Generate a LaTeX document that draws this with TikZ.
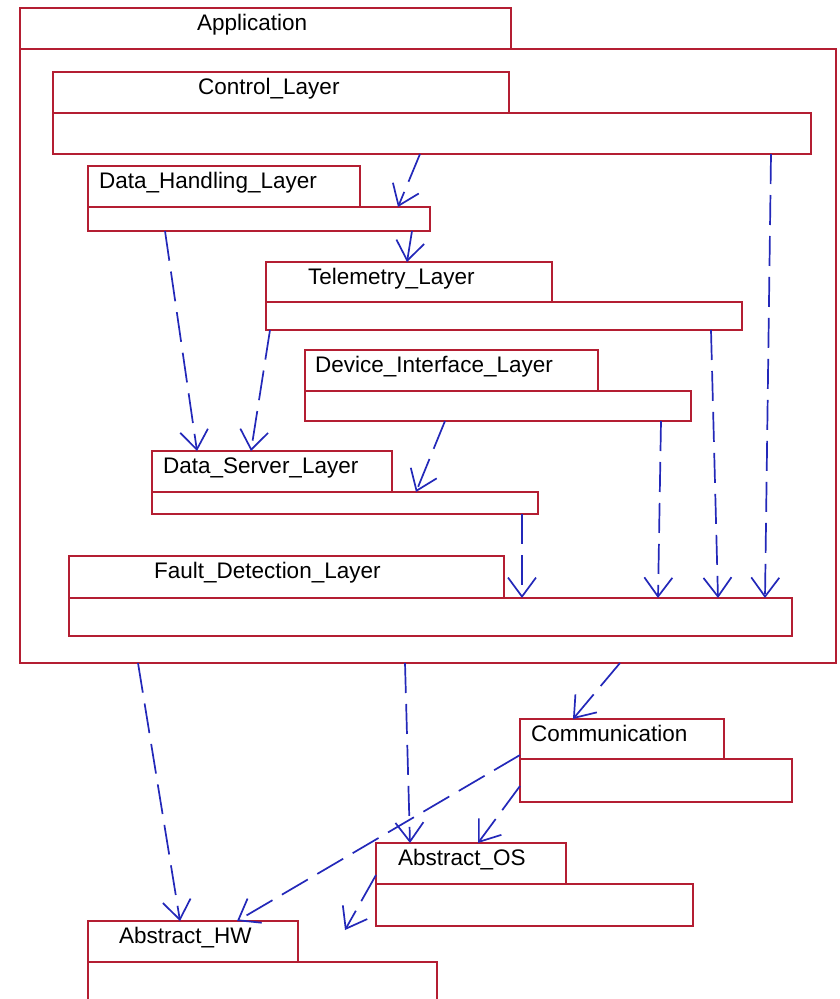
\documentclass[tikz,border=0pt]{standalone}
\usepackage{fontspec}
\setmainfont{Liberation Sans}
\usetikzlibrary{arrows.meta}

\definecolor{boxred}{RGB}{180,30,50}
\definecolor{depblue}{RGB}{35,40,185}

% package: tab on top, body below, name written in the tab
% #1 id, #2 x, #3 y, #4 tab width, #5 tab height, #6 body width, #7 body height, #8 name offset, #9 name
\newcommand{\umlpackage}[9]{%
  \node[pkgbox, minimum width=#4pt, minimum height=#5pt] (#1-tab) at (#2,#3) {};
  \node[pkgbox, minimum width=#6pt, minimum height=#7pt] (#1) at (#1-tab.south west) {};
  \node[pkglabel] (#1-name) at ([xshift=#8pt,yshift=-22pt]#1-tab.north west) {#9};
}

\tikzset{
  pkgbox/.style={draw=boxred, line width=1.8pt, inner sep=0pt, outer sep=0pt, anchor=north west},
  pkglabel/.style={anchor=base west, inner sep=0pt, font=\fontsize{22.5}{27}\selectfont},
  dep/.style={draw=depblue, line width=1.7pt, dash pattern=on 30pt off 11pt,
    -{Straight Barb[length=19pt, width=28pt]}}
}

\begin{document}
\begin{tikzpicture}[x=1pt, y=-1pt]
\useasboundingbox (0,0) rectangle (839,999);
\clip (0,0) rectangle (839,999);
\fill[white] (0,0) rectangle (839,999);

\umlpackage{app}{20}{8}{491}{41}{816}{614}{177}{Application}
\umlpackage{ctl}{53}{72}{456}{41}{758}{41}{145}{Control\_Layer}
\umlpackage{dh}{88}{166}{272}{41}{342}{24}{11}{Data\_Handling\_Layer}
\umlpackage{tel}{266}{262}{286}{40}{476}{28}{42}{Telemetry\_Layer}
\umlpackage{dev}{305}{350}{293}{41}{386}{30}{10}{Device\_Interface\_Layer}
\umlpackage{ds}{152}{451}{240}{41}{386}{22}{11}{Data\_Server\_Layer}
\umlpackage{fd}{69}{556}{435}{42}{723}{38}{85}{Fault\_Detection\_Layer}
\umlpackage{com}{520}{719}{204}{40}{272}{43}{11}{Communication}
\umlpackage{aos}{376}{843}{190}{41}{317}{42}{22}{Abstract\_OS}
\umlpackage{ahw}{88}{921}{210}{41}{349}{60}{31}{Abstract\_HW}

\coordinate (aos-free) at (345,930);

% dependencies inside Application
\draw[dep] ([xshift=367pt]ctl.south west) -- ([xshift=310pt]dh.north west);
\draw[dep] ([xshift=324pt]dh.south west) -- ([xshift=141pt]tel-tab.north west);
\draw[dep] ([xshift=718pt]ctl.south west) -- ([xshift=696pt]fd.north west);
\draw[dep] ([xshift=77pt]dh.south west) -- ([xshift=45pt]ds-tab.north west);
\draw[dep] ([xshift=4pt]tel.south west) -- ([xshift=99pt]ds-tab.north west);
\draw[dep] ([xshift=445pt]tel.south west) -- ([xshift=649pt]fd.north west);
\draw[dep] ([xshift=140pt]dev.south west) -- ([xshift=264pt]ds.north west);
\draw[dep] ([xshift=356pt]dev.south west) -- ([xshift=589pt]fd.north west);
\draw[dep] ([xshift=370pt]ds.south west) -- ([xshift=453pt]fd.north west);

% dependencies of Application and the lower packages
\draw[dep] ([xshift=118pt]app.south west) -- ([xshift=92pt]ahw-tab.north west);
\draw[dep] ([xshift=385pt]app.south west) -- ([xshift=34pt]aos-tab.north west);
\draw[dep] ([xshift=600pt]app.south west) -- ([xshift=53pt]com-tab.north west);
\draw[dep] ([yshift=4pt]com-tab.south west) -- ([xshift=149pt]ahw-tab.north west);
\draw[dep] ([yshift=-27pt]com.north west) -- ([xshift=102pt]aos-tab.north west);
\draw[dep] ([yshift=9pt]aos-tab.south west) -- (aos-free);
\end{tikzpicture}
\end{document}
